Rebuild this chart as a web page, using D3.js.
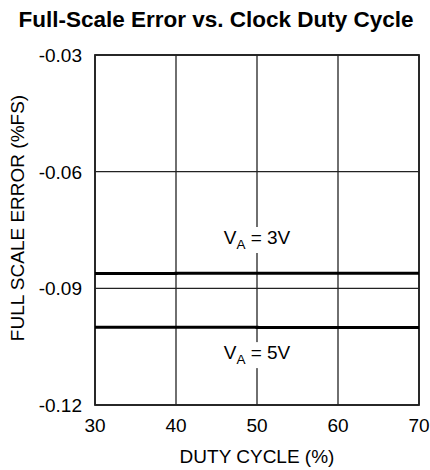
<!DOCTYPE html>
<html><head><meta charset="utf-8">
<script src="https://cdn.jsdelivr.net/npm/d3@7"></script>
<style>body{margin:0;background:#fff}svg{display:block}text{font-family:"Liberation Sans",Arial,Helvetica,sans-serif}</style>
</head><body>
<script>
const title = "Full-Scale Error vs. Clock Duty Cycle";
const xTicks = [30, 40, 50, 60, 70];
const yTicks = [-0.03, -0.06, -0.09, -0.12];
const yTickLabels = ["-0.03", "-0.06", "-0.09", "-0.12"];
const duty = [30, 35, 40, 45, 50, 55, 60, 65, 70];
const err3V = [-0.0862, -0.0862, -0.0861, -0.0861, -0.0861, -0.0861, -0.0861, -0.0861, -0.0861];
const err5V = [-0.1000, -0.1000, -0.1000, -0.1000, -0.1001, -0.1001, -0.1001, -0.1001, -0.1001];
const seriesLabels = [{main: "V", sub: "A", rest: " = 3V", x: 50, y: -0.0786}, {main: "V", sub: "A", rest: " = 5V", x: 50, y: -0.1082}];

const W = 430, H = 470;
const m = {left: 95, right: 419, top: 55, bottom: 405};
const svg = d3.select("body").append("svg").attr("width", W).attr("height", H);
const x = d3.scaleLinear().domain([30, 70]).range([m.left, m.right]);
const y = d3.scaleLinear().domain([-0.12, -0.03]).range([m.bottom, m.top]);

svg.append("text").attr("x", 216).attr("y", 27).attr("text-anchor", "middle")
  .attr("font-size", 22.5).attr("font-weight", "bold").text(title);

// grid
const g = svg.append("g");
g.selectAll(".vx").data(xTicks).join("line")
  .attr("x1", d => x(d)).attr("x2", d => x(d)).attr("y1", m.top).attr("y2", m.bottom)
  .attr("stroke", "#222").attr("stroke-width", 1.3);
g.selectAll(".hy").data(yTicks).join("line")
  .attr("y1", d => y(d)).attr("y2", d => y(d)).attr("x1", m.left).attr("x2", m.right)
  .attr("stroke", "#222").attr("stroke-width", 1.3);

// label backgrounds and labels
seriesLabels.forEach(l => {
  const cx = x(l.x), cy = y(l.y);
  svg.append("rect").attr("x", cx - 40).attr("y", cy - 17).attr("width", 80).attr("height", 26).attr("fill", "#fff");
  const t = svg.append("text").attr("x", cx).attr("y", cy).attr("text-anchor", "middle").attr("font-size", 19);
  t.append("tspan").text(l.main);
  t.append("tspan").attr("font-size", 13.5).attr("dy", 4.5).text(l.sub);
  t.append("tspan").attr("dy", -4.5).text(l.rest);
});

// frame
svg.append("rect").attr("x", m.left).attr("y", m.top).attr("width", m.right - m.left).attr("height", m.bottom - m.top)
  .attr("fill", "none").attr("stroke", "#222").attr("stroke-width", 1.8);

// series
const line = d3.line().x((d, i) => x(duty[i])).y(d => y(d)).curve(d3.curveStepAfter);
[err3V, err5V].forEach(s => {
  svg.append("path").datum(s).attr("d", line).attr("fill", "none").attr("stroke", "#000").attr("stroke-width", 3);
});

// axes labels
svg.selectAll(".xt").data(xTicks).join("text").attr("x", d => x(d)).attr("y", 432)
  .attr("text-anchor", "middle").attr("font-size", 19).text(d => d);
svg.selectAll(".yt").data(yTicks).join("text").attr("x", 82).attr("y", d => y(d) + 7)
  .attr("text-anchor", "end").attr("font-size", 19).text((d, i) => yTickLabels[i]);

svg.append("text").attr("x", 257).attr("y", 463).attr("text-anchor", "middle").attr("font-size", 19).text("DUTY CYCLE (%)");
svg.append("text").attr("transform", "translate(24,218) rotate(-90)").attr("text-anchor", "middle")
  .attr("font-size", 19).text("FULL SCALE ERROR (%FS)");
</script>
</body></html>
